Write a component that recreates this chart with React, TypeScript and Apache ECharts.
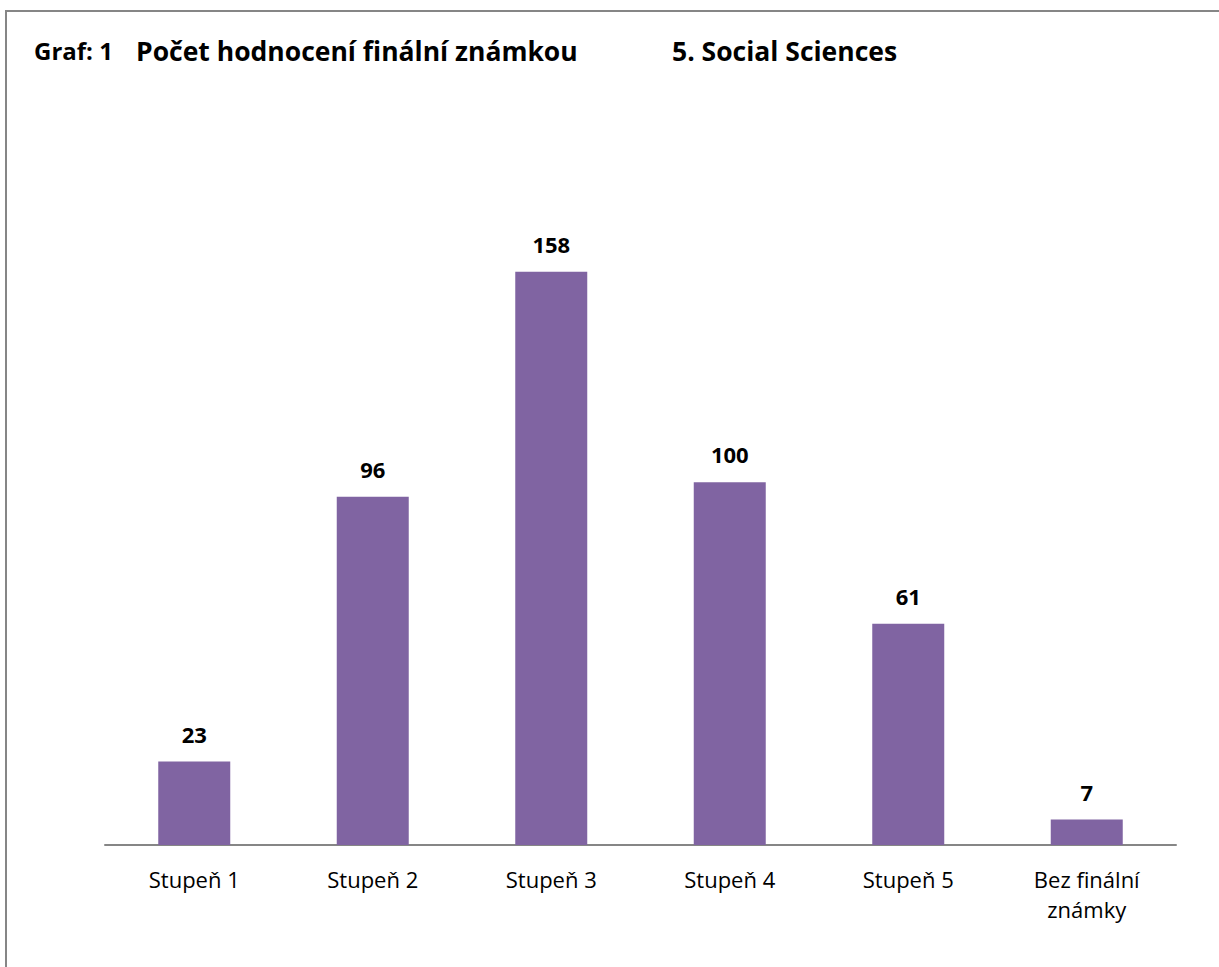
import React, { useEffect, useRef } from "react";
import * as echarts from "echarts";

const categories = ["Stupeň 1", "Stupeň 2", "Stupeň 3", "Stupeň 4", "Stupeň 5", "Bez finální\nznámky"];
const values = [23, 96, 158, 100, 61, 7];
const graphLabel = "Graf: 1";
const titleText = "Počet hodnocení finální známkou";
const subjectText = "5. Social Sciences";

const FONT = "'Open Sans', 'Noto Sans', sans-serif";

export default function App() {
  const ref = useRef<HTMLDivElement>(null);
  useEffect(() => {
    if (!ref.current) return;
    const chart = echarts.init(ref.current, null, { renderer: "svg" });
    chart.setOption({
      animation: false,
      backgroundColor: "#ffffff",
      graphic: [
        {
          type: "polyline",
          shape: { points: [[6, 980], [6, 11], [1230, 11]] },
          style: { stroke: "#868686", lineWidth: 2, fill: "none" },
          silent: true,
        },
        {
          type: "text",
          left: 34,
          top: 38,
          style: { text: graphLabel, font: `bold 24px ${FONT}`, fill: "#000" },
        },
        {
          type: "text",
          left: 136,
          top: 37,
          style: { text: titleText, font: `bold 26.5px ${FONT}`, fill: "#000" },
        },
        {
          type: "text",
          left: 672,
          top: 37,
          style: { text: subjectText, font: `bold 26.5px ${FONT}`, fill: "#000" },
        },
      ],
      grid: { left: 105, right: 43, top: 192, bottom: 122, containLabel: false },
      xAxis: {
        type: "category",
        data: categories,
        axisLine: { show: true, lineStyle: { color: "#868686", width: 2 } },
        axisTick: { show: false },
        axisLabel: {
          color: "#000",
          fontFamily: FONT,
          fontSize: 22,
          lineHeight: 30,
          margin: 19,
          interval: 0,
        },
      },
      yAxis: {
        type: "value",
        min: 0,
        max: 180,
        show: false,
        splitLine: { show: false },
      },
      series: [
        {
          type: "bar",
          data: values,
          barWidth: 72,
          itemStyle: { color: "#8064A2" },
          label: {
            show: true,
            position: "top",
            distance: 17,
            color: "#000",
            fontFamily: FONT,
            fontWeight: "bold",
            fontSize: 22,
          },
        },
      ],
    });
    return () => chart.dispose();
  }, []);
  return (
    <div
      ref={ref}
      style={{ position: "fixed", left: 0, top: 0, width: 1219, height: 967 }}
    />
  );
}
